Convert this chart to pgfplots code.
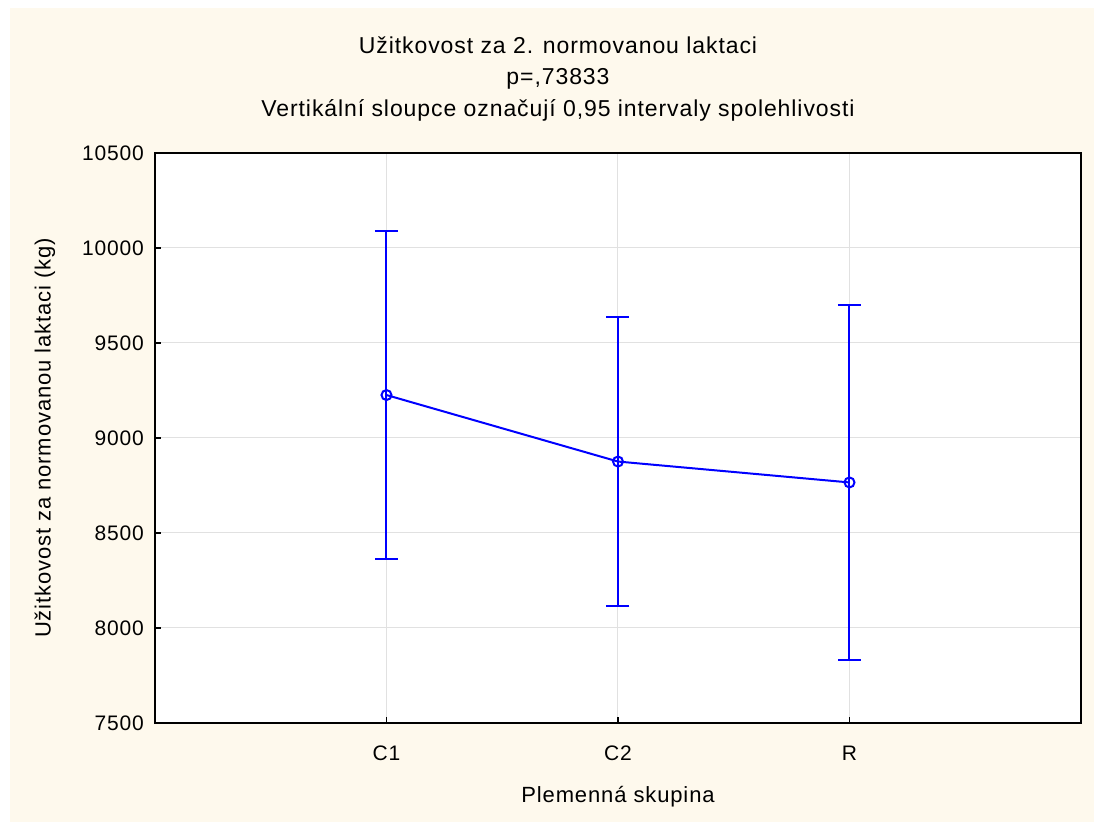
\documentclass[border=0pt]{standalone}
\usepackage{fontspec}
\setmainfont{Liberation Sans}
\newfontfamily\wide[LetterSpace=4]{Liberation Sans}
\usepackage{pgfplots}
\pgfplotsset{compat=1.18}
\definecolor{panel}{RGB}{254,249,237}
\definecolor{gridgray}{RGB}{225,225,225}

\begin{document}
\begin{tikzpicture}
% page and cream panel (1 px = 0.5pt)
\fill[white] (0,0) rectangle (547pt,411pt);
\fill[panel] (5pt,0) rectangle (547pt,407pt);

\node[anchor=base,font=\wide\fontsize{11.5}{13}\selectfont] at (279pt,384pt) {Užitkovost za 2. normovanou laktaci};
\node[anchor=base,font=\wide\fontsize{11.5}{13}\selectfont] at (279pt,368.5pt) {p=,73833};
\node[anchor=base,font=\wide\fontsize{11.5}{13}\selectfont] at (279pt,352.5pt) {Vertikální sloupce označují 0,95 intervaly spolehlivosti};

\begin{axis}[
  at={(77.5pt,49.5pt)}, anchor=south west,
  scale only axis, width=463pt, height=285pt,
  axis background/.style={fill=white},
  axis line style={line width=1pt},
  xmin=0, xmax=4, ymin=7500, ymax=10500,
  xtick={1,2,3}, xticklabels={C1,C2,R},
  ytick={7500,8000,8500,9000,9500,10000,10500},
  scaled y ticks=false,
  xtick pos=bottom, ytick pos=left,
  tick align=inside, major tick length=3pt,
  tick style={black, line width=0.6pt},
  grid=major, grid style={gridgray, line width=0.5pt},
  /pgf/number format/assume math mode=true,
  /pgf/number format/1000 sep={},
  tick label style={font=\wide\fontsize{10.5}{12}\selectfont},
  yticklabel style={xshift=-2pt},
  xticklabel style={yshift=-8pt},
  xlabel={Plemenná skupina},
  ylabel={Užitkovost za normovanou laktaci (kg)},
  label style={font=\wide\fontsize{11}{13}\selectfont},
  xlabel style={at={(rel axis cs:0.5,0)}, anchor=center, yshift=-37pt},
  ylabel style={at={(rel axis cs:-0.1188,0.5)}, anchor=center},
]
\addplot[blue, line width=1pt, mark=o, mark size=2.5pt,
  error bars/.cd, y dir=both, y explicit,
  error bar style={blue, line width=1pt},
  error mark options={rotate=90, blue, mark size=5.75pt, line width=1pt}]
  coordinates {
    (1,9226) +- (0,863)
    (2,8876) +- (0,760)
    (3,8766) +- (0,934)
  };
\end{axis}
\end{tikzpicture}
\end{document}
